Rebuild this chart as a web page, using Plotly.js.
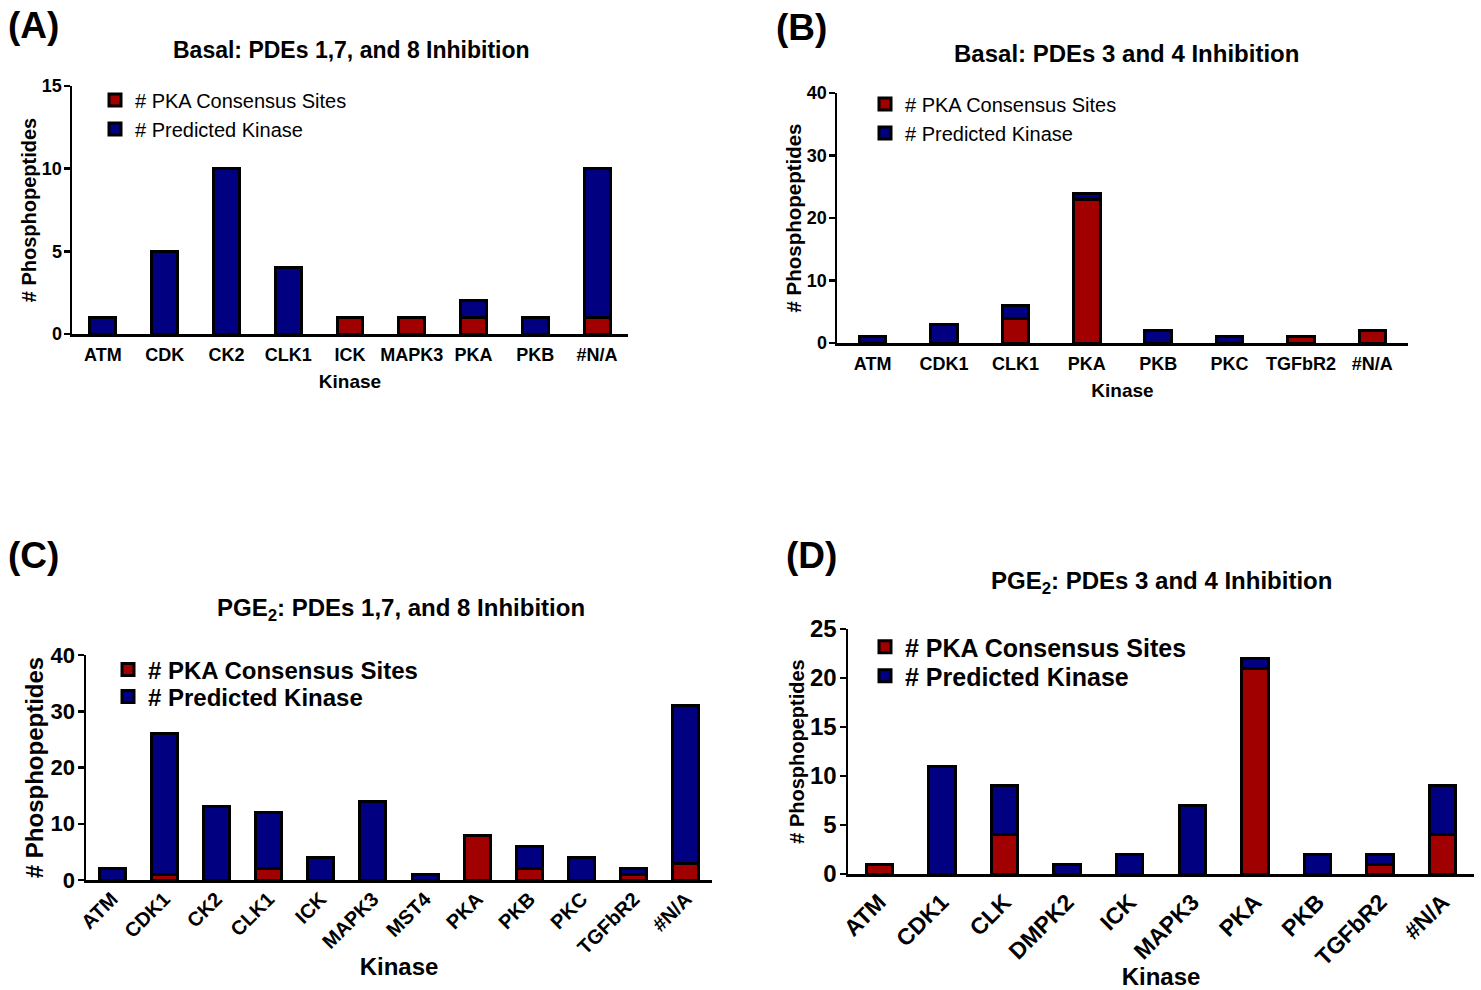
<!DOCTYPE html>
<html>
<head>
<meta charset="utf-8">
<script src="https://cdn.plot.ly/plotly-3.0.1.min.js"></script>
<style>
  html, body { margin: 0; padding: 0; background: #ffffff; }
  #chart { width: 1481px; height: 990px; }
</style>
</head>
<body>
<div id="chart"></div>
<script>
// ---------- DATA ----------
// (A) Basal: PDEs 1,7, and 8 Inhibition
const kinasesA = ["ATM", "CDK", "CK2", "CLK1", "ICK", "MAPK3", "PKA", "PKB", "#N/A"];
const pkaSitesA = [0, 0, 0, 0, 1, 1, 1, 0, 1];
const predictedA = [1, 5, 10, 4, 0, 0, 1, 1, 9];

// (B) Basal: PDEs 3 and 4 Inhibition
const kinasesB = ["ATM", "CDK1", "CLK1", "PKA", "PKB", "PKC", "TGFbR2", "#N/A"];
const pkaSitesB = [0, 0, 4, 23, 0, 0, 1, 2];
const predictedB = [1, 3, 2, 1, 2, 1, 0, 0];

// (C) PGE2: PDEs 1,7, and 8 Inhibition
const kinasesC = ["ATM", "CDK1", "CK2", "CLK1", "ICK", "MAPK3", "MST4", "PKA", "PKB", "PKC", "TGFbR2", "#N/A"];
const pkaSitesC = [0, 1, 0, 2, 0, 0, 0, 8, 2, 0, 1, 3];
const predictedC = [2, 25, 13, 10, 4, 14, 1, 0, 4, 4, 1, 28];

// (D) PGE2: PDEs 3 and 4 Inhibition
const kinasesD = ["ATM", "CDK1", "CLK", "DMPK2", "ICK", "MAPK3", "PKA", "PKB", "TGFbR2", "#N/A"];
const pkaSitesD = [1, 0, 4, 0, 0, 0, 21, 0, 1, 4];
const predictedD = [0, 11, 5, 1, 2, 7, 1, 2, 1, 5];

const seriesNames = ["# PKA Consensus Sites", "# Predicted Kinase"];
const titles = [
  "Basal: PDEs 1,7, and 8 Inhibition",
  "Basal: PDEs 3 and 4 Inhibition",
  "PGE<sub>2</sub>: PDEs 1,7, and 8 Inhibition",
  "PGE<sub>2</sub>: PDEs 3 and 4 Inhibition"
];
const panelLabels = ["(A)", "(B)", "(C)", "(D)"];
const xTitle = "Kinase";
const yTitle = "# Phosphopeptides";

// ---------- STYLE ----------
const W = 1481, H = 990;
const RED = "#a00000", BLUE = "#000080";
const FONT = "Liberation Sans, Arial, Helvetica, sans-serif";
const px = v => v / W;
const py = v => 1 - v / H;

const panels = [
  {cats: kinasesA, red: pkaSitesA, blue: predictedA, ax: "", x0: 72, x1: 628, y0: 86, y1: 334,
   ymax: 15, dtick: 5, barw: 0.42, tickSize: 18, xtickSize: 18, angle: 0, yTitleSize: 20, xTitleSize: 19,
   legFont: 20, legBold: false, legX: 95, legY: [100, 129], titleX: 351, titleY: 50, titleSize: 23,
   labelX: 6, labelY: 25, xtStand: 3, xTitleStand: 11},
  {cats: kinasesB, red: pkaSitesB, blue: predictedB, ax: "2", x0: 837, x1: 1408, y0: 93, y1: 343,
   ymax: 40, dtick: 10, barw: 0.37, tickSize: 18, xtickSize: 18, angle: 0, yTitleSize: 20.5, xTitleSize: 19,
   legFont: 20, legBold: false, legX: 865, legY: [104, 133], titleX: 1126, titleY: 53, titleSize: 24,
   labelX: 774, labelY: 28, xtStand: 3, xTitleStand: 11},
  {cats: kinasesC, red: pkaSitesC, blue: predictedC, ax: "3", x0: 86, x1: 712, y0: 655, y1: 880,
   ymax: 40, dtick: 10, barw: 0.5, tickSize: 22, xtickSize: 20, angle: -45, yTitleSize: 24, xTitleSize: 24,
   legFont: 24, legBold: true, legX: 108, legY: [670, 697], titleX: 401, titleY: 609, titleSize: 24,
   labelX: 6, labelY: 555, xtStand: -3, xTitleStand: 0},
  {cats: kinasesD, red: pkaSitesD, blue: predictedD, ax: "4", x0: 848, x1: 1474, y0: 629, y1: 874,
   ymax: 25, dtick: 5, barw: 0.42, tickSize: 24, xtickSize: 23, angle: -45, yTitleSize: 20, xTitleSize: 24,
   legFont: 25, legBold: true, legX: 865, legY: [647, 676], titleX: 1161, titleY: 582, titleSize: 24,
   labelX: 784, labelY: 555, xtStand: 3, xTitleStand: 5}
];

const data = [];
const layout = {
  width: W, height: H,
  margin: {l: 0, r: 0, t: 0, b: 0},
  paper_bgcolor: "#ffffff", plot_bgcolor: "#ffffff",
  barmode: "stack",
  font: {family: FONT, color: "#000000"},
  annotations: [],
  showlegend: true
};

let legIdx = 0;
panels.forEach((p, i) => {
  const xa = "x" + p.ax, ya = "y" + p.ax;
  [[p.red, RED, seriesNames[0]], [p.blue, BLUE, seriesNames[1]]].forEach(([vals, col, nm], j) => {
    legIdx += 1;
    const legName = legIdx === 1 ? "legend" : "legend" + legIdx;
    data.push({
      type: "bar", x: p.cats, y: vals, name: nm,
      xaxis: xa, yaxis: ya, legend: legName,
      width: p.barw,
      marker: {color: col, line: {color: "#000000", width: 3}},
      hoverinfo: "x+y+name"
    });
    layout[legName] = {
      x: px(p.legX), y: py(p.legY[j]), xanchor: "left", yanchor: "middle",
      bgcolor: "rgba(0,0,0,0)", borderwidth: 0,
      font: {family: FONT, size: p.legFont, color: "#000000", weight: p.legBold ? "bold" : "normal"},
      itemwidth: 30, tracegroupgap: 0
    };
  });

  layout["xaxis" + p.ax] = {
    domain: [px(p.x0), px(p.x1)], anchor: ya,
    type: "category", range: [-0.5, p.cats.length - 0.5],
    showline: true, linecolor: "#000000", linewidth: 2.5,
    showgrid: false, zeroline: false, ticks: "",
    tickangle: p.angle, ticklabelstandoff: p.xtStand,
    tickfont: {family: FONT, size: p.xtickSize, color: "#000000", weight: "bold"},
    title: {text: "<b>" + xTitle + "</b>", font: {family: FONT, size: p.xTitleSize, color: "#000000"}, standoff: p.xTitleStand},
    automargin: false, fixedrange: true
  };
  layout["yaxis" + p.ax] = {
    domain: [py(p.y1), py(p.y0)], anchor: xa,
    range: [0, p.ymax], dtick: p.dtick, tick0: 0,
    showline: true, linecolor: "#000000", linewidth: 2.5,
    showgrid: false, zeroline: false,
    ticks: "outside", ticklen: 6, tickwidth: 2.5, tickcolor: "#000000",
    ticklabelstandoff: -2,
    tickfont: {family: FONT, size: p.tickSize, color: "#000000", weight: "bold"},
    title: {text: "<b>" + yTitle + "</b>", font: {family: FONT, size: p.yTitleSize, color: "#000000"}, standoff: 0},
    automargin: false, fixedrange: true
  };
  layout.annotations.push({
    xref: "paper", yref: "paper", x: px(p.titleX), y: py(p.titleY),
    xanchor: "center", yanchor: "middle", showarrow: false,
    text: "<b>" + titles[i] + "</b>",
    font: {family: FONT, size: p.titleSize, color: "#000000"}
  });
  layout.annotations.push({
    xref: "paper", yref: "paper", x: px(p.labelX), y: py(p.labelY),
    xanchor: "left", yanchor: "middle", showarrow: false,
    text: "<b>" + panelLabels[i] + "</b>",
    font: {family: FONT, size: 37, color: "#000000"}
  });
});

Plotly.newPlot("chart", data, layout, {displayModeBar: false, staticPlot: true});
</script>
</body>
</html>
